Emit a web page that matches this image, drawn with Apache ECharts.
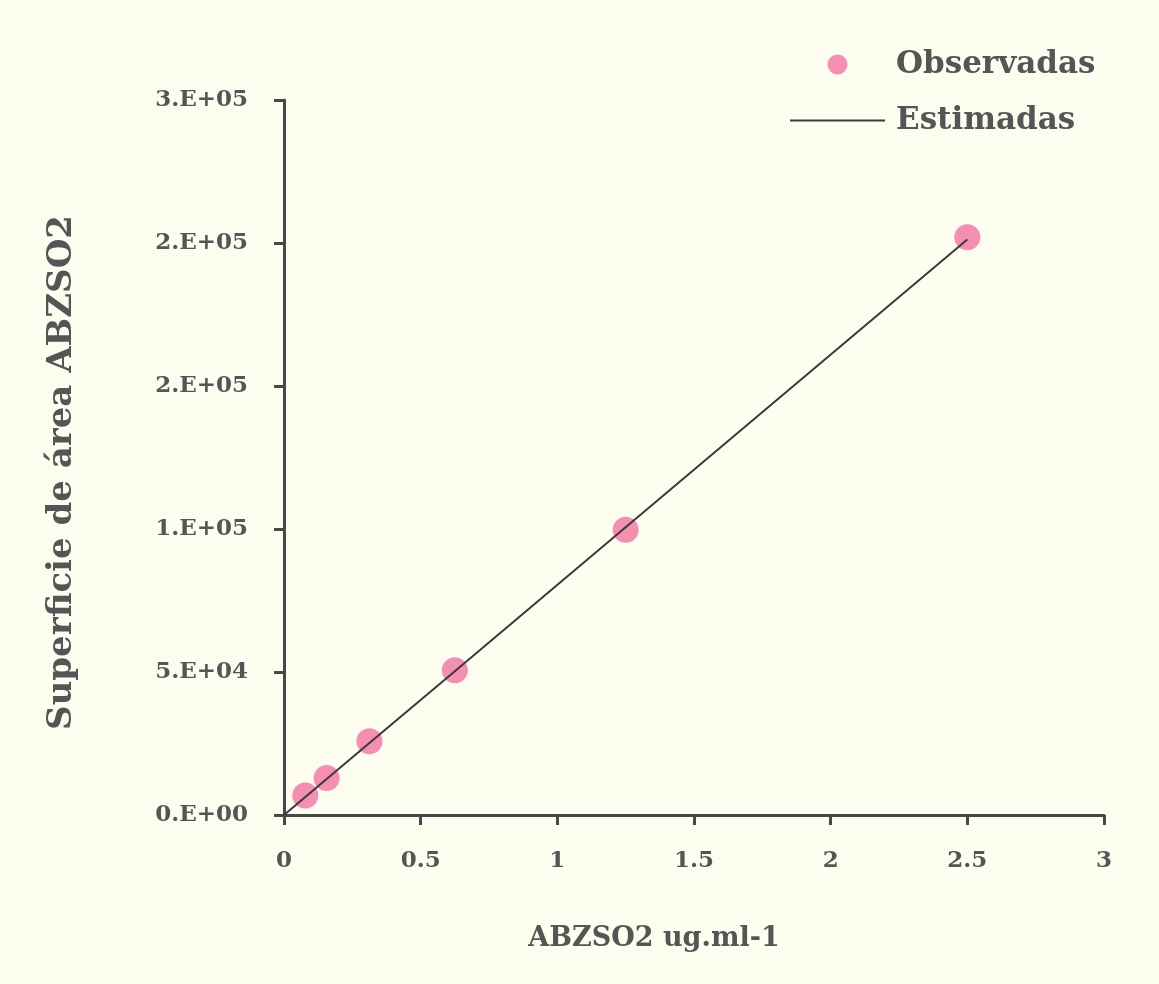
<!DOCTYPE html>
<html>
<head>
<meta charset="utf-8">
<title>ABZSO2</title>
<script src="https://cdn.jsdelivr.net/npm/echarts@6/dist/echarts.min.js"></script>
<style>
  html, body { margin: 0; padding: 0; background: #fcfcef; }
  #mainContent { width: 1159px; height: 984px; }
</style>
</head>
<body>
<div id="mainContent"></div>
<script>
// datos
var concObs = [0.078, 0.156, 0.3125, 0.625, 1.25, 2.5];
var areaObs = [6800, 12900, 25800, 50600, 99700, 202000];
var concEst = [0, 0.078, 0.156, 0.3125, 0.625, 1.25, 2.5];
var areaEst = [0, 6300, 12600, 25200, 50300, 100600, 201200];
var yLabels = ['0.E+00', '5.E+04', '1.E+05', '2.E+05', '2.E+05', '3.E+05'];

var myChart = echarts.init(document.getElementById('mainContent'));

var fuente = 'DejaVu Serif';
var gris = '#555555';
var eje = '#474747';

var obs = [];
for (var i = 0; i < concObs.length; i++) {
    obs.push([concObs[i], areaObs[i]]);
}
var est = [];
for (var j = 0; j < concEst.length; j++) {
    est.push([concEst[j], areaEst[j]]);
}

option = {
    backgroundColor: '#fcfcef',
    animation: false,
    legend: {
        orient: 'vertical',
        left: 790,
        top: 49,
        padding: 0,
        itemWidth: 95,
        itemHeight: 20,
        itemGap: 25,
        data: [
            { name: 'Observadas' },
            // icono de linea sola, sin simbolo
            { name: 'Estimadas', icon: 'path://M0,0H100V2H0Z' }
        ],
        textStyle: {
            fontFamily: fuente,
            fontWeight: 'bold',
            fontSize: 31,
            color: gris,
            padding: [0, 0, 0, 6]
        }
    },
    grid: {
        left: 284,
        right: 55,
        top: 100,
        bottom: 169
    },
    xAxis: {
        type: 'value',
        min: 0,
        max: 3,
        interval: 0.5,
        name: 'ABZSO2 ug.ml-1',
        nameLocation: 'middle',
        nameGap: 110,
        nameTextStyle: {
            fontFamily: fuente,
            fontWeight: 'bold',
            fontSize: 27,
            color: gris,
            padding: [0, 80, 0, 0]
        },
        splitLine: { show: false },
        axisLine: { lineStyle: { color: eje, width: 3 } },
        axisTick: { length: 10, lineStyle: { color: eje, width: 3 } },
        axisLabel: {
            margin: 35,
            fontFamily: fuente,
            fontWeight: 'bold',
            fontSize: 23,
            color: gris
        }
    },
    yAxis: {
        type: 'value',
        min: 0,
        max: 250000,
        interval: 50000,
        name: 'Superficie de área ABZSO2',
        nameLocation: 'middle',
        nameGap: 205,
        nameTextStyle: {
            fontFamily: fuente,
            fontWeight: 'bold',
            fontSize: 34,
            color: gris,
            padding: [0, 30, 0, 0]
        },
        splitLine: { show: false },
        axisLine: { show: true, lineStyle: { color: eje, width: 3 } },
        axisTick: { show: true, length: 10, lineStyle: { color: eje, width: 3 } },
        axisLabel: {
            margin: 36,
            fontFamily: fuente,
            fontWeight: 'bold',
            fontSize: 23,
            color: gris,
            formatter: function (v) {
                return yLabels[Math.round(v / 50000)];
            }
        }
    },
    series: [{
        name: 'Estimadas',
        type: 'line',
        showSymbol: false,
        symbol: 'none',
        itemStyle: { color: '#3a3a3a' },
        lineStyle: { color: '#3a3a3a', width: 2 },
        data: est
    }, {
        name: 'Observadas',
        type: 'scatter',
        symbolSize: 26,
        itemStyle: { color: '#f48fb1', opacity: 1 },
        data: obs
    }]
};

myChart.setOption(option);
</script>
</body>
</html>
